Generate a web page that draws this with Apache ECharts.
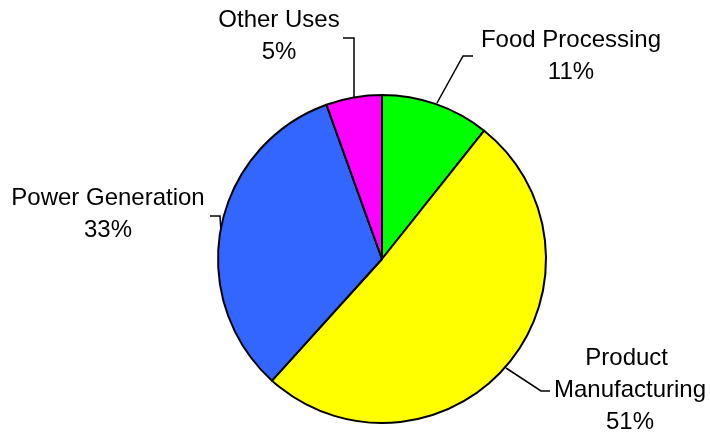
<!DOCTYPE html>
<html>
<head>
<meta charset="utf-8">
<script src="https://cdn.jsdelivr.net/npm/echarts@6/dist/echarts.min.js"></script>
<style>
  html, body { margin: 0; padding: 0; background: #fff; }
  #chart { width: 710px; height: 435px; }
</style>
</head>
<body>
<div id="chart"></div>
<script>
// slice data, clockwise from 12 o'clock
const categories = ['Food Processing', 'Product Manufacturing', 'Power Generation', 'Other Uses'];
const shares = [10.7, 51.0, 32.8, 5.5];
const colors = ['#00ff00', '#ffff00', '#3366ff', '#ff00ff'];

// where each label block sits, and its leader line
const labelSpots = [
  { x: 571, y: 56, line: [[437, 103], [463, 56], [473, 56]] },
  { x: 630, y: 390, line: [[506, 368], [541, 391], [550, 391]] },
  { x: 108, y: 214, line: [[221, 232], [220, 216], [210, 216]] },
  { x: 279, y: 36, line: [[354, 97], [354, 38], [343, 38]] }
];

const chart = echarts.init(document.getElementById('chart'), null, { renderer: 'canvas' });

const option = {
  animation: false,
  backgroundColor: '#ffffff',
  series: [
    {
      type: 'pie',
      center: [382, 259],
      radius: 164,
      startAngle: 90,
      clockwise: true,
      percentPrecision: 0,
      avoidLabelOverlap: false,
      itemStyle: { borderColor: '#000', borderWidth: 2 },
      label: {
        show: true,
        position: 'outside',
        formatter: '{b}\n{d}%',
        color: '#000',
        fontFamily: 'Liberation Sans, Arial, sans-serif',
        fontSize: 24,
        lineHeight: 32,
        align: 'center'
      },
      labelLine: {
        show: true,
        lineStyle: { color: '#000', width: 1.5 }
      },
      emphasis: { disabled: true },
      labelLayout: function (params) {
        const s = labelSpots[params.dataIndex];
        return {
          x: s.x,
          y: s.y,
          align: 'center',
          verticalAlign: 'middle',
          labelLinePoints: s.line
        };
      },
      data: categories.map((name, i) => ({
        name: name,
        value: shares[i],
        itemStyle: { color: colors[i] },
        label: i === 1 ? { width: 170, overflow: 'break' } : undefined
      }))
    }
  ]
};

chart.setOption(option);
</script>
</body>
</html>
